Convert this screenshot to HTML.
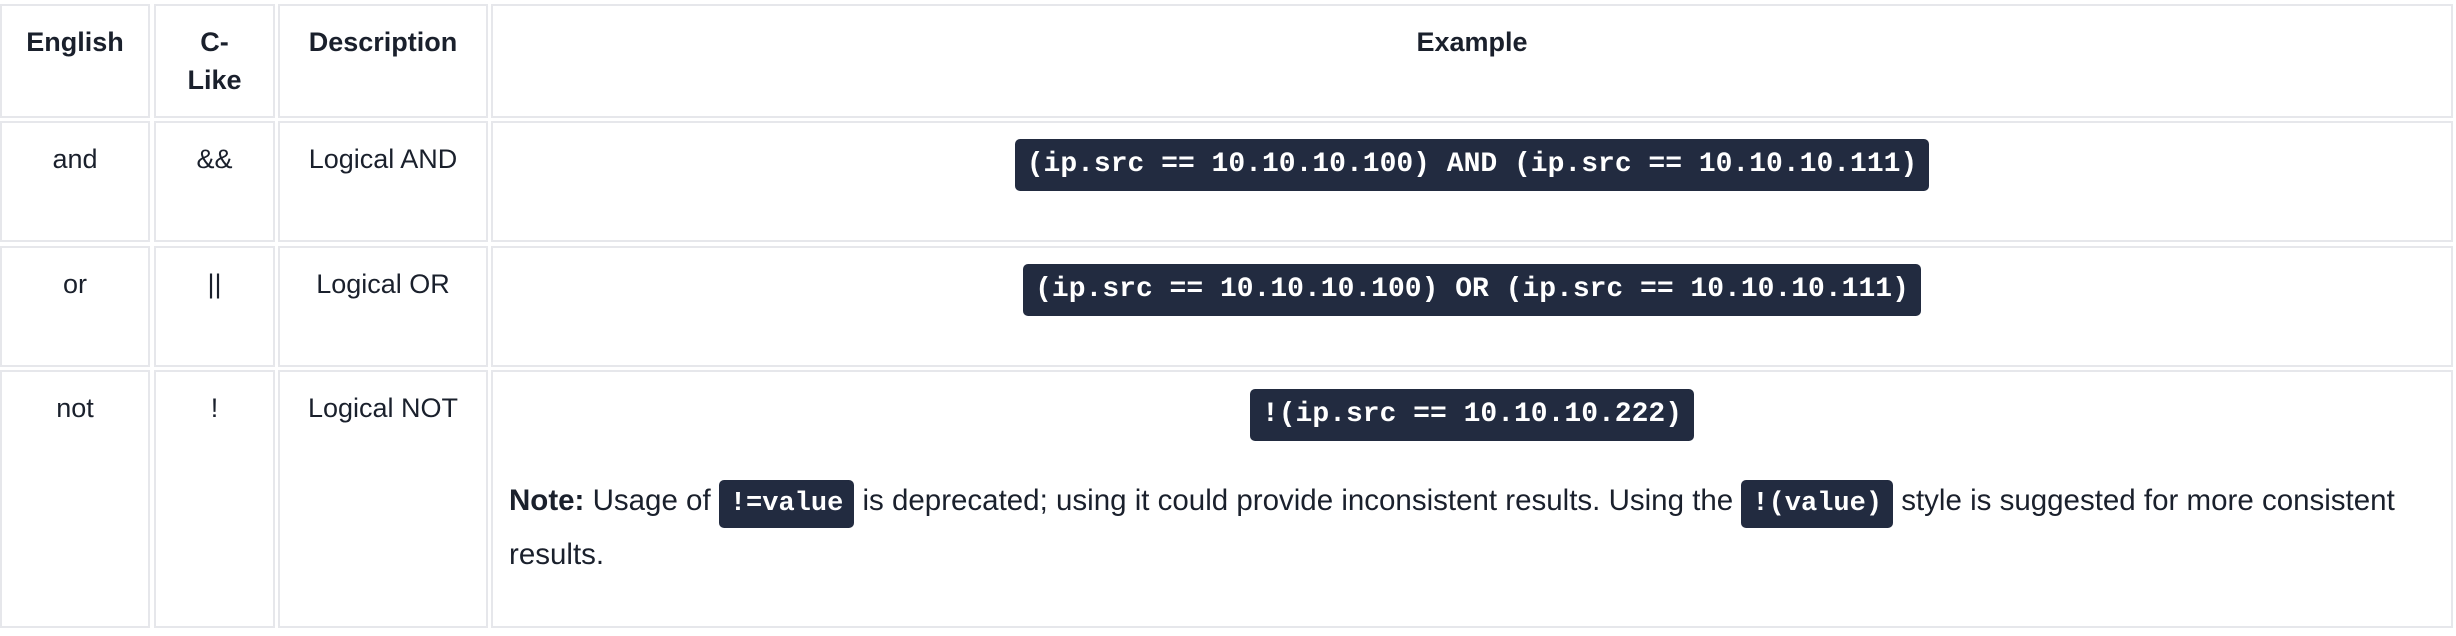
<!DOCTYPE html>
<html><head><meta charset="utf-8"><style>
body{margin:0;width:2456px;height:636px;background:#fff;position:relative;overflow:hidden;font-family:"Liberation Sans",sans-serif;color:#1a202c;}
.c{position:absolute;border:2px solid #e6e7eb;box-sizing:border-box;text-align:center;font-size:27px;}
.t{position:absolute;left:0;right:0;text-align:center;line-height:38px;}
.h{font-weight:bold;}
.code{display:inline-block;background:#222b40;color:#fff;font-family:"Liberation Mono",monospace;font-weight:bold;border-radius:5px;padding:0 12px;line-height:52px;font-size:28px;white-space:nowrap;}
.ic{line-height:48px;padding:0 11px;font-size:27px;}
</style></head><body>
<div class="c" style="left:0;top:4px;width:150px;height:114px"><div class="t h" style="top:17px">English</div></div>
<div class="c" style="left:154px;top:4px;width:121px;height:114px"><div class="t h" style="top:17px">C-<br>Like</div></div>
<div class="c" style="left:278px;top:4px;width:210px;height:114px"><div class="t h" style="top:17px">Description</div></div>
<div class="c" style="left:491px;top:4px;width:1962px;height:114px"><div class="t h" style="top:17px">Example</div></div>

<div class="c" style="left:0;top:121px;width:150px;height:121px"><div class="t" style="top:17px">and</div></div>
<div class="c" style="left:154px;top:121px;width:121px;height:121px"><div class="t" style="top:17px">&amp;&amp;</div></div>
<div class="c" style="left:278px;top:121px;width:210px;height:121px"><div class="t" style="top:17px">Logical AND</div></div>
<div class="c" style="left:491px;top:121px;width:1962px;height:121px"><div class="t" style="top:16px"><span class="code">(ip.src == 10.10.10.100) AND (ip.src == 10.10.10.111)</span></div></div>

<div class="c" style="left:0;top:246px;width:150px;height:121px"><div class="t" style="top:17px">or</div></div>
<div class="c" style="left:154px;top:246px;width:121px;height:121px"><div class="t" style="top:17px">||</div></div>
<div class="c" style="left:278px;top:246px;width:210px;height:121px"><div class="t" style="top:17px">Logical OR</div></div>
<div class="c" style="left:491px;top:246px;width:1962px;height:121px"><div class="t" style="top:16px"><span class="code">(ip.src == 10.10.10.100) OR (ip.src == 10.10.10.111)</span></div></div>

<div class="c" style="left:0;top:370px;width:150px;height:258px"><div class="t" style="top:17px">not</div></div>
<div class="c" style="left:154px;top:370px;width:121px;height:258px"><div class="t" style="top:17px">!</div></div>
<div class="c" style="left:278px;top:370px;width:210px;height:258px"><div class="t" style="top:17px">Logical NOT</div></div>
<div class="c" style="left:491px;top:370px;width:1962px;height:258px">
<div class="t" style="top:17px"><span class="code">!(ip.src == 10.10.10.222)</span></div>
<div style="position:absolute;left:16px;top:102px;text-align:left;font-size:29.5px;line-height:54px;white-space:nowrap;"><b>Note:</b> Usage of <span class="code ic">!=value</span> is deprecated; using it could provide inconsistent results. Using the <span class="code ic">!(value)</span> style is suggested for more consistent<br>results.</div>
</div>
</body></html>
